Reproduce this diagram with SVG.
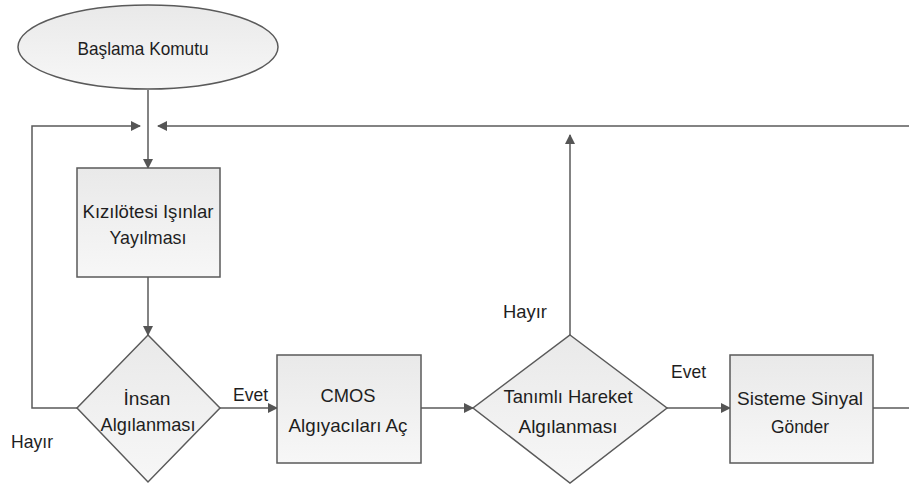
<svg xmlns="http://www.w3.org/2000/svg" width="909" height="488" viewBox="0 0 909 488">
<defs>
<linearGradient id="g" x1="0" y1="0" x2="0" y2="1">
<stop offset="0" stop-color="#e9e9e9"/>
<stop offset="1" stop-color="#f7f7f7"/>
</linearGradient>
<marker id="a" markerWidth="10" markerHeight="10" refX="9" refY="5" orient="auto" markerUnits="userSpaceOnUse">
<path d="M0,0 L10,5 L0,10 Z" fill="#555"/>
</marker>
<style>
.s{fill:url(#g);stroke:#5a5a5a;stroke-width:1.5}
.t{font-family:"Liberation Sans",Arial,sans-serif;font-size:19px;fill:#1e1e1e;text-anchor:middle}
.l{font-family:"Liberation Sans",Arial,sans-serif;font-size:19px;fill:#1e1e1e}
.c{fill:none;stroke:#5a5a5a;stroke-width:1.5}
</style>
</defs>
<rect width="909" height="488" fill="#fff"/>
<g id="connectors">
<path class="c" d="M148,90 V168" marker-end="url(#a)"/>
<path class="c" d="M77,408 H32 V126 H140" marker-end="url(#a)"/>
<path class="c" d="M909,126 H158" marker-end="url(#a)"/>
<path class="c" d="M148,277 V335" marker-end="url(#a)"/>
<path class="c" d="M220,408 H277" marker-end="url(#a)"/>
<path class="c" d="M421,408 H473" marker-end="url(#a)"/>
<path class="c" d="M570,335 V135" marker-end="url(#a)"/>
<path class="c" d="M667,408 H730" marker-end="url(#a)"/>
<path class="c" d="M873,408 H909"/>
</g>
<g id="start">
<ellipse class="s" cx="148" cy="47" rx="130" ry="42"/>
<text class="t" x="143" y="55" textLength="131" lengthAdjust="spacingAndGlyphs">Başlama Komutu</text>
</g>
<g id="emit">
<rect class="s" x="77" y="168" width="143" height="109"/>
<text class="t" x="148" y="218" textLength="131" lengthAdjust="spacingAndGlyphs">Kızılötesi Işınlar</text>
<text class="t" x="148" y="244" textLength="77" lengthAdjust="spacingAndGlyphs">Yayılması</text>
</g>
<g id="human">
<polygon class="s" points="148,335 220,408 148,482 77,408"/>
<text class="t" x="147" y="405" textLength="47" lengthAdjust="spacingAndGlyphs">İnsan</text>
<text class="t" x="148" y="431" textLength="95" lengthAdjust="spacingAndGlyphs">Algılanması</text>
</g>
<g id="cmos">
<rect class="s" x="277" y="355" width="144" height="108"/>
<text class="t" x="348" y="402" textLength="55" lengthAdjust="spacingAndGlyphs">CMOS</text>
<text class="t" x="348" y="432" textLength="119" lengthAdjust="spacingAndGlyphs">Algıyacıları Aç</text>
</g>
<g id="motion">
<polygon class="s" points="570,335 667,408 570,483 473,408"/>
<text class="t" x="568" y="403" textLength="129" lengthAdjust="spacingAndGlyphs">Tanımlı Hareket</text>
<text class="t" x="568" y="433" textLength="99" lengthAdjust="spacingAndGlyphs">Algılanması</text>
</g>
<g id="signal">
<rect class="s" x="730" y="355" width="143" height="108"/>
<text class="t" x="800" y="405" textLength="126" lengthAdjust="spacingAndGlyphs">Sisteme Sinyal</text>
<text class="t" x="800" y="433" textLength="58" lengthAdjust="spacingAndGlyphs">Gönder</text>
</g>
<g id="labels">
<text class="l" x="11" y="448" textLength="42" lengthAdjust="spacingAndGlyphs">Hayır</text>
<text class="l" x="233" y="401" textLength="35" lengthAdjust="spacingAndGlyphs">Evet</text>
<text class="l" x="503" y="318" textLength="44" lengthAdjust="spacingAndGlyphs">Hayır</text>
<text class="l" x="671" y="378" textLength="35" lengthAdjust="spacingAndGlyphs">Evet</text>
</g>
</svg>
